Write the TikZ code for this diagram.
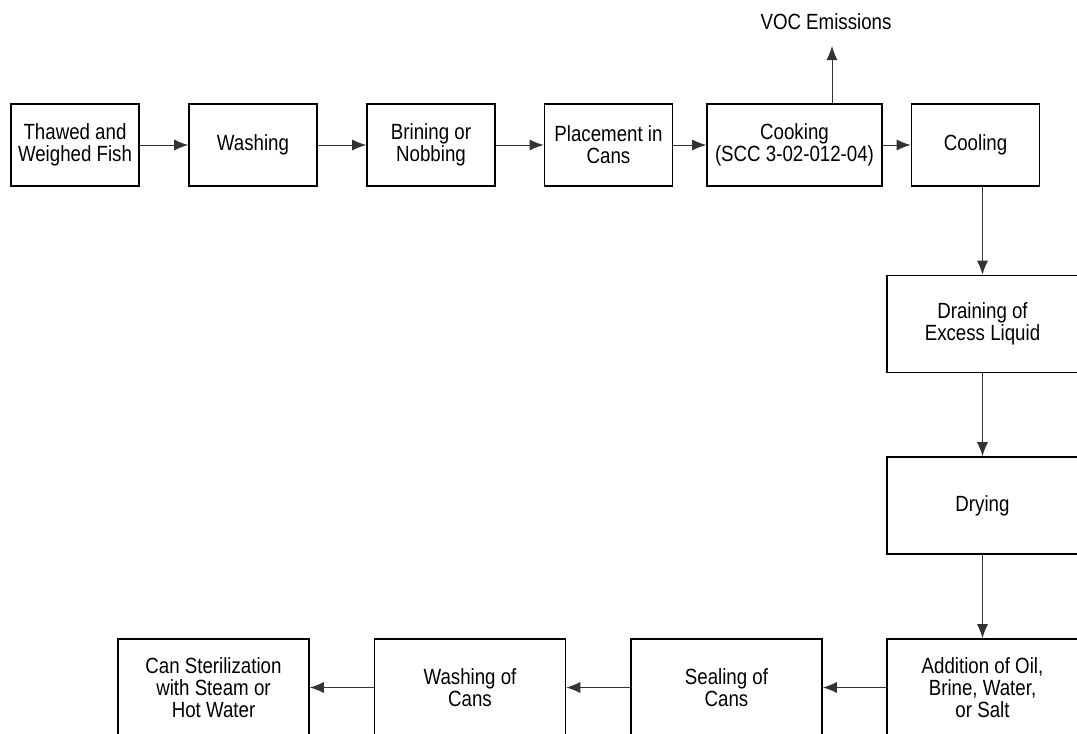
\documentclass[tikz,border=0pt]{standalone}
\usepackage{fontspec}
\setmainfont{Liberation Sans}[FakeStretch=0.85]
\usetikzlibrary{arrows.meta}
\begin{document}
\begin{tikzpicture}[x=0.5pt, y=-0.5pt, >={Latex[length=7pt,width=5.5pt]},
	font=\fontsize{11}{11}\selectfont,
	box/.style={draw, rectangle, line width=0.8pt, align=center, inner sep=0pt},
	topbox/.style={box, minimum width=64pt, minimum height=41pt},
	bigbox/.style={box, minimum width=95.5pt, minimum height=48.5pt},
	flow/.style={->, line width=0.5pt, black!80}]
\useasboundingbox (0,0) rectangle (1077,734);
\clip (0,0) rectangle (1077,734);

\node (A)[topbox] at (75,145) {Thawed and\\Weighed Fish};
\node (B)[topbox] at (253,145) {Washing};
\node (C)[topbox] at (431,145) {Brining or\\Nobbing};
\node (D)[topbox] at (608.5,145) {Placement in\\Cans};
\node (E)[topbox, minimum width=87.5pt] at (794.5,145) {Cooking\\(SCC 3-02-012-04)};
\node (F)[topbox] at (975.5,145) {Cooling};
\node (V) at (826,22) {VOC Emissions};
\coordinate (voc) at (832,46);

\node (G)[bigbox] at (982.5,324) {Draining of\\Excess Liquid};
\node (H)[bigbox] at (982.5,505.5) {Drying};
\node (I)[bigbox] at (982.5,687.5) {Addition of Oil,\\Brine, Water,\\or Salt};
\node (J)[bigbox] at (726.5,687.5) {Sealing of\\Cans};
\node (K)[bigbox] at (470,687.5) {Washing of\\Cans};
\node (L)[bigbox] at (213.5,687.5) {Can Sterilization\\with Steam or\\Hot Water};

\draw[flow](A)--(B);\draw[flow](B)--(C);
\draw[flow](C)--(D);\draw[flow](D)--(E);
\draw[flow](E)--(F);
\draw[flow](voc |- E.north)--(voc);
\draw[flow](F.south -| G)--(G.north);
\draw[flow](G)--(H);\draw[flow](H)--(I);
\draw[flow](I)--(J);\draw[flow](J)--(K);
\draw[flow](K)--(L);
\end{tikzpicture}
\end{document}
